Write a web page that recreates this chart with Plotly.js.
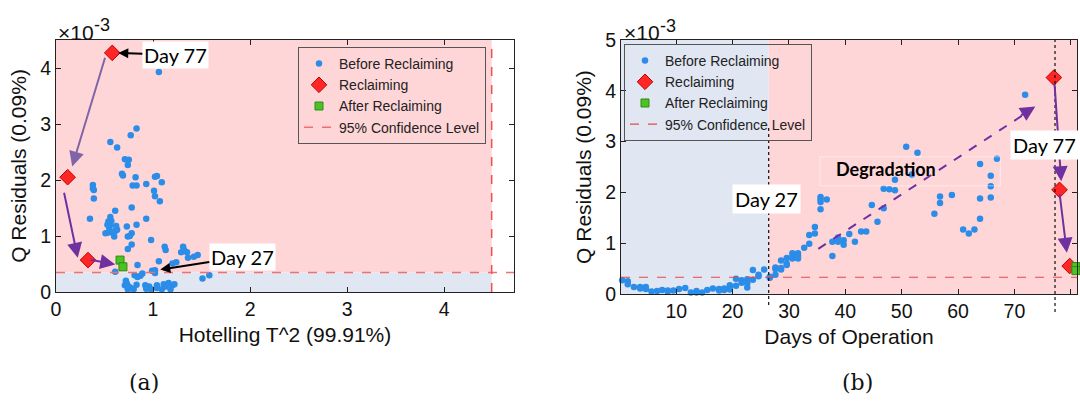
<!DOCTYPE html>
<html>
<head>
<meta charset="utf-8">
<script src="https://cdn.plot.ly/plotly-3.0.1.min.js"></script>
<style>html,body{margin:0;padding:0;background:#fff;} #chart{width:1080px;height:401px;}</style>
</head>
<body>
<div id="chart"></div>
<script>
// ---------- (a) Hotelling T^2 vs Q residuals (x 1e-3) ----------
const beforeT2 = [1.06,0.83,0.77,0.56,0.63,0.71,0.75,0.74,0.68,0.69,0.82,1.02,1.04,0.93,1.09,0.79,0.83,0.38,0.38,0.39,0.39,1.01,1.02,1.07,0.78,0.61,0.35,0.56,0.57,0.54,0.53,0.56,0.55,0.53,0.62,0.63,0.61,0.51,0.58,0.60,0.73,0.83,0.78,0.76,0.74,0.93,0.78,0.98,0.74,1.12,1.13,1.31,1.32,1.35,1.29,1.42,1.46,1.36,1.20,1.24,1.06,0.84,0.61,0.99,1.02,1.02,0.81,0.84,0.87,0.89,0.72,0.73,0.75,0.77,0.71,0.74,0.80,0.83,0.92,0.96,0.98,0.93,1.04,1.11,1.13,1.16,1.20,1.22,1.18,1.09,1.04,1.51,1.58];
const beforeQa = [3.93,2.92,2.80,2.68,2.58,2.37,2.36,2.27,2.11,2.08,2.05,2.06,2.07,1.93,1.96,1.90,1.90,1.91,1.85,1.82,1.67,1.81,1.71,1.62,1.51,1.45,1.31,1.34,1.27,1.26,1.20,1.20,1.14,1.06,1.18,1.11,1.09,1.05,1.06,0.99,1.17,1.20,1.05,1.00,0.99,1.31,0.85,0.93,0.77,0.81,0.75,0.81,0.75,0.71,0.71,0.63,0.66,0.61,0.51,0.53,0.55,0.48,0.36,0.38,0.39,0.34,0.30,0.27,0.29,0.33,0.20,0.15,0.10,0.07,0.12,0.05,0.05,0.13,0.12,0.10,0.05,0.06,0.12,0.14,0.10,0.16,0.12,0.14,0.05,0.05,0.07,0.24,0.30];
const reclaimT2 = [0.58,0.12,0.33];
const reclaimQa = [4.27,2.05,0.57];
const afterT2 = [0.66,0.69];
const afterQa = [0.57,0.45];
const limitT2 = 4.49;
const limitQa = 0.35;
const rangeT2 = [0, 4.72];
const rangeQa = [0, 4.5];

// ---------- (b) Q residuals vs days ----------
const beforeDays = [0.4,1.4,1.4,2.5,3.6,3.6,4.6,4.6,5.6,6.6,7.5,8.5,8.5,9.5,10.5,11.6,12.6,13.6,13.6,14.6,15.5,16.5,17.6,17.6,18.5,18.5,19.5,19.5,19.5,20.6,20.6,21.6,21.6,22.6,22.6,22.6,23.6,23.6,24.6,24.6,25.6,26.6,26.6,27.6,27.6,27.6,28.6,28.6,28.6,29.6,29.6,29.6,30.6,30.6,30.6,31.6,31.6,31.6,32.7,33.6,33.6,34.6,34.6,35.6,35.6,35.6,35.6,36.7,37.7,37.7,38.7,38.7,39.7,39.7,40.7,41.7,42.8,43.7,44.7,45.7,46.8,46.8,47.8,48.8,48.8,50.8,51.8,52.8,55.8,56.8,56.8,58.9,60.9,61.9,62.9,63.9,63.9,63.9,65.8,65.8,65.8,66.9,71.9];
const beforeQb = [0.27,0.25,0.19,0.14,0.14,0.11,0.14,0.10,0.05,0.06,0.08,0.07,0.05,0.07,0.10,0.12,0.03,0.06,0.03,0.03,0.08,0.11,0.10,0.07,0.11,0.08,0.17,0.13,0.09,0.30,0.16,0.27,0.22,0.29,0.21,0.13,0.47,0.28,0.35,0.38,0.48,0.32,0.34,0.38,0.52,0.49,0.66,0.48,0.51,0.71,0.60,0.57,0.80,0.70,0.74,0.80,0.75,0.70,0.91,0.99,1.16,1.19,1.32,1.91,1.86,1.81,1.67,1.86,1.03,0.75,1.11,1.03,1.06,0.97,1.18,1.03,1.23,1.23,1.75,1.42,2.07,1.69,2.06,2.04,2.25,2.90,2.35,2.78,1.58,1.92,1.79,1.95,1.27,1.19,1.27,2.56,1.88,1.48,2.33,2.12,1.90,2.66,3.92];
const reclaimDays = [77.0,78.0,79.8];
const reclaimQb = [4.26,2.05,0.55];
const afterDays = [80.9,80.9];
const afterQb = [0.54,0.46];
const limitQb = 0.33;
const day27 = 26.4;
const day77 = 77.2;
const rangeDays = [0.2, 81.1];
const rangeQb = [0, 5];

const names = ['Before Reclaiming','Reclaiming','After Reclaiming','95% Confidence Level'];

const BLUE = '#2b8de8', RED = '#ff2626', GREEN = '#4cc324';
const PINK = '#ffd6d8', LBLUE = '#e0e6f2', PURPLE = '#7030a0';
const AX = '"Liberation Sans", Arial, sans-serif';
const CAL = 'Lato, "Open Sans", sans-serif';
const SERIF = '"DejaVu Serif", "Liberation Serif", serif';

function markers(x, y, name, mk, xa, ya, lg) {
  return {type:'scatter', mode:'markers', x:x, y:y, name:name, marker:mk, xaxis:xa, yaxis:ya, legend:lg, cliponaxis:false};
}
const mkBlue = {color:BLUE, size:6.5};
const mkRed = {color:RED, size:12, symbol:'diamond', line:{color:'#c00000', width:1}};
const mkGreen = {color:GREEN, size:8, symbol:'square', line:{color:'#2e8a14', width:1}};

const traces = [
  markers(beforeT2, beforeQa, names[0], mkBlue, 'x', 'y', 'legend'),
  markers(reclaimT2, reclaimQa, names[1], mkRed, 'x', 'y', 'legend'),
  markers(afterT2, afterQa, names[2], mkGreen, 'x', 'y', 'legend'),
  {type:'scatter', mode:'lines', x:rangeT2, y:[limitQa, limitQa], name:names[3], xaxis:'x', yaxis:'y', legend:'legend',
   line:{color:'#f07070', width:1.5, dash:'dash'}},
  {type:'scatter', mode:'lines', x:[limitT2, limitT2], y:rangeQa, name:names[3], xaxis:'x', yaxis:'y', showlegend:false,
   line:{color:'#f05050', width:1.5, dash:'dash'}},
  markers(beforeDays, beforeQb, names[0], mkBlue, 'x2', 'y2', 'legend2'),
  markers(reclaimDays, reclaimQb, names[1], mkRed, 'x2', 'y2', 'legend2'),
  markers(afterDays, afterQb, names[2], mkGreen, 'x2', 'y2', 'legend2'),
  {type:'scatter', mode:'lines', x:rangeDays, y:[limitQb, limitQb], name:names[3], xaxis:'x2', yaxis:'y2', legend:'legend2',
   line:{color:'#e84848', width:1.2, dash:'dash'}}
];

const TF = {family:AX, size:19.5, color:'#111'};
const TTL = {family:AX, size:21, color:'#111'};
function axisBase(extra) {
  return Object.assign({
    showgrid:false, zeroline:false, showline:true, linecolor:'#222', linewidth:1,
    mirror:'allticks', ticks:'inside', ticklen:5, tickcolor:'#222', automargin:false,
    tickfont:TF
  }, extra);
}

const MULT = {family:AX, size:21, color:'#111'};
const EXP = {family:AX, size:18, color:'#111'};

const layout = {
  width:1080, height:401,
  margin:{l:0, r:0, t:0, b:0},
  paper_bgcolor:'#ffffff', plot_bgcolor:'rgba(0,0,0,0)',
  font:{family:AX, size:18, color:'#111'},
  xaxis: axisBase({domain:[56/1080, 514/1080], range:rangeT2, anchor:'y', dtick:1, tick0:0,
    title:{text:'Hotelling T^2 (99.91%)', font:TTL, standoff:7}}),
  yaxis: axisBase({domain:[109/401, 361/401], range:rangeQa, anchor:'x', dtick:1, tick0:0,
    title:{text:'Q Residuals (0.09%)', font:TTL, standoff:7}}),
  xaxis2: axisBase({domain:[621/1080, 1077/1080], range:rangeDays, anchor:'y2', dtick:10, tick0:0,
    title:{text:'Days of Operation', font:TTL, standoff:7}}),
  yaxis2: axisBase({domain:[107/401, 361/401], range:rangeQb, anchor:'x2', dtick:1, tick0:0,
    title:{text:'Q Residuals (0.09%)', font:TTL, standoff:7}}),
  legend:{x:486/1080, xanchor:'right', y:354/401, yanchor:'top', bgcolor:PINK, bordercolor:'#555', borderwidth:1,
    font:{family:AX, size:14, color:'#222'}, tracegroupgap:0},
  legend2:{x:624/1080, xanchor:'left', y:357/401, yanchor:'top', bgcolor:'rgba(0,0,0,0)', bordercolor:'#555', borderwidth:1,
    font:{family:AX, size:14, color:'#222'}, tracegroupgap:0},
  shapes:[
    {type:'rect', xref:'x', yref:'y', x0:rangeT2[0], x1:limitT2, y0:limitQa, y1:rangeQa[1], fillcolor:PINK, line:{width:0}, layer:'below'},
    {type:'rect', xref:'x', yref:'y', x0:rangeT2[0], x1:limitT2, y0:rangeQa[0], y1:limitQa, fillcolor:LBLUE, line:{width:0}, layer:'below'},
    {type:'rect', xref:'x2', yref:'y2', x0:rangeDays[0], x1:day27, y0:rangeQb[0], y1:rangeQb[1], fillcolor:LBLUE, line:{width:0}, layer:'below'},
    {type:'rect', xref:'x2', yref:'y2', x0:day27, x1:rangeDays[1], y0:rangeQb[0], y1:rangeQb[1], fillcolor:PINK, line:{width:0}, layer:'below'},
    {type:'line', xref:'x2', yref:'paper', x0:day27, x1:day27, y0:96/401, y1:273/401, line:{color:'#111', width:1.2, dash:'dot'}, layer:'above'},
    {type:'line', xref:'x2', yref:'paper', x0:day77, x1:day77, y0:89/401, y1:361/401, line:{color:'#111', width:1.2, dash:'dot'}, layer:'above'},
    {type:'rect', xref:'x2', yref:'y2', x0:35.5, x1:67.5, y0:2.13, y1:2.70, line:{color:'rgba(255,255,255,0.45)', width:1}, layer:'above'},
    {type:'line', xref:'x2', yref:'y2', x0:35.2, y0:0.89, x1:71.5, y1:3.52, line:{color:PURPLE, width:2, dash:'dash'}, layer:'above'}
  ],
  annotations:[
    // purple arrows (a)
    {xref:'x', yref:'y', axref:'x', ayref:'y', x:0.167, y:2.24, ax:0.51, ay:4.21, text:'', showarrow:true, arrowhead:2, arrowsize:1.5, arrowwidth:2, arrowcolor:'#8064a8'},
    {xref:'x', yref:'y', axref:'x', ayref:'y', x:0.224, y:0.61, ax:0.08, ay:1.80, text:'', showarrow:true, arrowhead:2, arrowsize:1.5, arrowwidth:2, arrowcolor:PURPLE},
    {xref:'x', yref:'y', axref:'x', ayref:'y', x:0.61, y:0.49, ax:0.34, ay:0.58, text:'', showarrow:true, arrowhead:2, arrowsize:1.5, arrowwidth:2, arrowcolor:PURPLE},
    // purple arrows (b)
    {xref:'x2', yref:'y2', axref:'x2', ayref:'y2', x:78.3, y:2.22, ax:77.1, ay:4.16, text:'', showarrow:true, arrowhead:2, arrowsize:1.5, arrowwidth:2, arrowcolor:PURPLE},
    {xref:'x2', yref:'y2', axref:'x2', ayref:'y2', x:79.3, y:0.81, ax:78.0, ay:1.99, text:'', showarrow:true, arrowhead:2, arrowsize:1.5, arrowwidth:2, arrowcolor:PURPLE},
    {xref:'x2', yref:'y2', axref:'x2', ayref:'y2', x:73.7, y:3.69, ax:70.9, ay:3.50, text:'', showarrow:true, arrowhead:2, arrowsize:1.5, arrowwidth:2, arrowcolor:PURPLE},
    // labels
    {xref:'x', yref:'y', axref:'x', ayref:'y', x:reclaimT2[0], y:reclaimQa[0], ax:1.23, ay:4.24, text:'Day 77', showarrow:true, arrowhead:2, arrowsize:1, arrowwidth:2, arrowcolor:'#000', standoff:6, bgcolor:'#fff', borderpad:1, font:{family:CAL, size:20, color:'#000'}},
    {xref:'x', yref:'y', axref:'x', ayref:'y', x:1.075, y:0.40, ax:1.92, ay:0.63, text:'Day 27', showarrow:true, arrowhead:2, arrowsize:1, arrowwidth:2, arrowcolor:'#000', standoff:0, bgcolor:'#fff', borderpad:1, font:{family:CAL, size:20, color:'#000'}},
    {xref:'x2', yref:'y2', x:26.1, y:1.87, text:'Day 27', showarrow:false, bgcolor:'#fff', borderpad:2, font:{family:CAL, size:20, color:'#000'}},
    {xref:'x2', yref:'y2', x:75.3, y:2.93, text:'Day 77', showarrow:false, bgcolor:'#fff', borderpad:2, font:{family:CAL, size:20, color:'#000'}},
    {xref:'x2', yref:'y2', x:47.2, y:2.47, text:'<b>Degradation</b>', showarrow:false, font:{family:CAL, size:18, color:'#000'}},
    // axis multipliers
    {xref:'paper', yref:'paper', x:56/1080, y:(401-32)/401, xanchor:'left', yanchor:'middle', text:'×10', showarrow:false, font:MULT},
    {xref:'paper', yref:'paper', x:92/1080, y:(401-25)/401, xanchor:'left', yanchor:'middle', text:'-3', showarrow:false, font:EXP},
    {xref:'paper', yref:'paper', x:622/1080, y:(401-33)/401, xanchor:'left', yanchor:'middle', text:'×10', showarrow:false, font:MULT},
    {xref:'paper', yref:'paper', x:658/1080, y:(401-26)/401, xanchor:'left', yanchor:'middle', text:'-3', showarrow:false, font:EXP},
    {xref:'paper', yref:'paper', x:144/1080, y:19/401, xanchor:'center', yanchor:'middle', text:'(a)', showarrow:false, font:{family:SERIF, size:22, color:'#111'}},
    {xref:'paper', yref:'paper', x:857/1080, y:19/401, xanchor:'center', yanchor:'middle', text:'(b)', showarrow:false, font:{family:SERIF, size:22, color:'#111'}}
  ]
};

Plotly.newPlot('chart', traces, layout, {displayModeBar:false, staticPlot:true});
</script>
</body>
</html>
